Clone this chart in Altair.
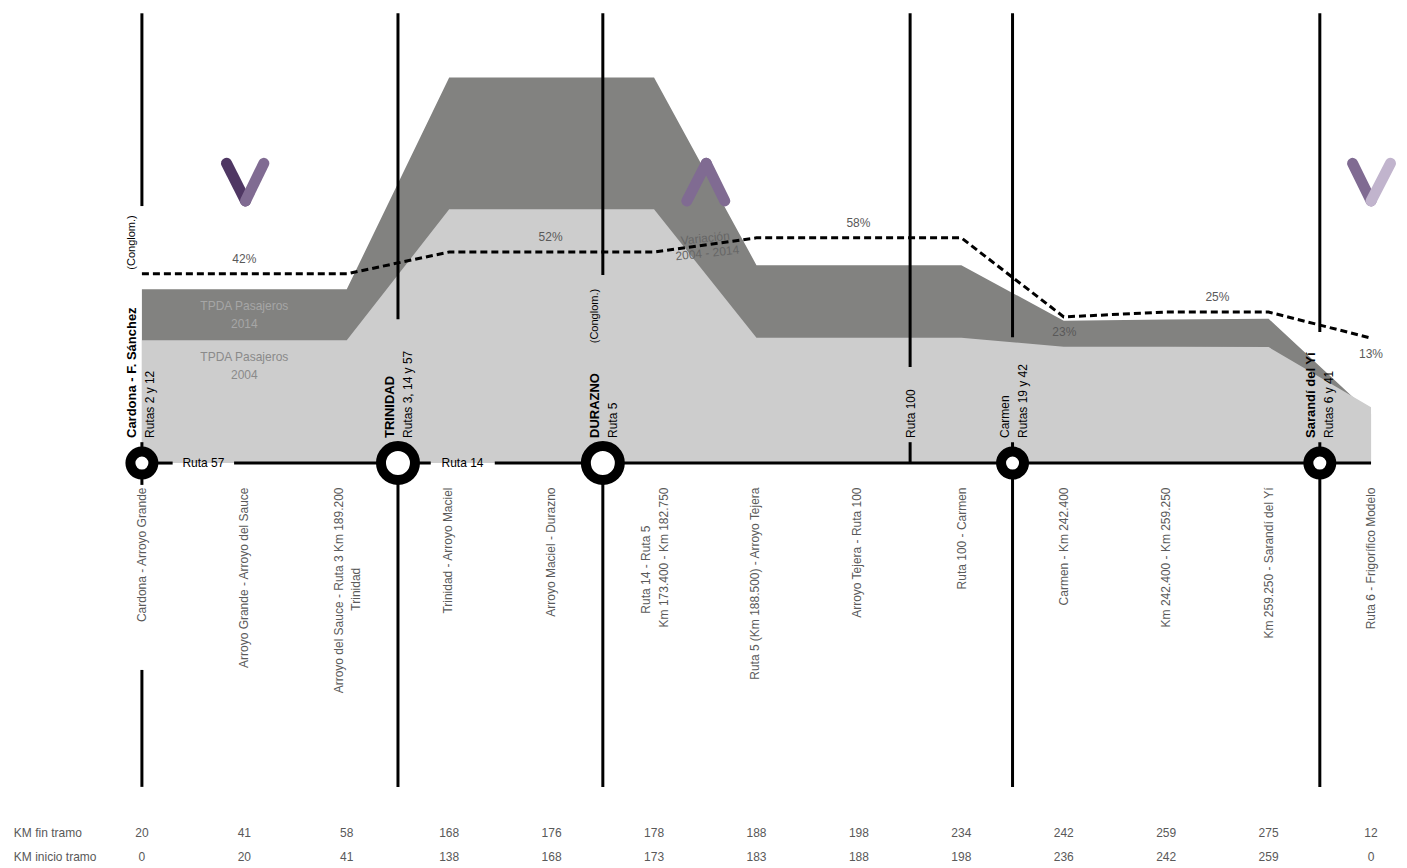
import altair as alt
import pandas as pd

FONT = "Liberation Sans"
GRAY = "#595959"

# ---- series
idx = list(range(13))
tpda_2014 = [541, 541, 541, 1200, 1200, 1200, 616, 616, 616, 443, 447, 449, 153]
tpda_2004 = [382, 382, 382, 790, 790, 790, 390, 390, 390, 362, 362, 361, 174]
variacion = [589, 589, 589, 657, 657, 657, 701, 701, 701, 455, 470, 470, 389]
y_ticks = [0, 200, 400, 600, 800, 1000, 1200, 1400]

# ---- bottom table
km_fin = [20, 41, 58, 168, 176, 178, 188, 198, 234, 242, 259, 275, 12]
km_inicio = [0, 20, 41, 138, 168, 173, 183, 188, 198, 236, 242, 259, 0]
km_row_fin = -1151
km_row_inicio = -1225
km_names = ["KM fin tramo", "KM inicio tramo"]
km_name_x = [-1.25, -1.25]
km_name_y = [km_row_fin, km_row_inicio]

# ---- segment names (rotated)
tramo_text = ["Cardona - Arroyo Grande", "Arroyo Grande - Arroyo del Sauce",
              "Arroyo del Sauce -  Ruta 3 Km 189.200", "Trinidad",
              "Trinidad - Arroyo Maciel", "Arroyo Maciel - Durazno",
              "Ruta 14  -  Ruta 5", "Km 173.400 - Km 182.750",
              "Ruta 5 (Km 188.500) - Arroyo Tejera", "Arroyo Tejera - Ruta 100",
              "Ruta 100 - Carmen", "Carmen - Km 242.400",
              "Km 242.400 - Km 259.250", "Km 259.250 - Sarandí del Yí",
              "Ruta 6 - Frigorífico Modelo"]
tramo_x = [0, 1, 1.923, 2.09, 2.985, 3.99, 4.918, 5.094, 5.99, 6.985, 8.01, 9.006, 10.0, 11.006, 12.0]
tramo_y = [-76, -76, -76, -326, -76, -76, -195, -76, -76, -76, -76, -76, -76, -76, -76]

# ---- towns (rotated)
bold_text = ["Cardona - F. Sánchez", "TRINIDAD", "DURAZNO", "Sarandí del Yí"]
bold_x = [-0.098, 2.42, 4.42, 11.41]
bold_y = [78, 78, 78, 78]
town_text = ["Rutas 2 y 12", "Rutas 3, 14 y 57", "Ruta 5", "Ruta 100", "Carmen", "Rutas 19 y 42", "Rutas 6 y 41"]
town_x = [0.078, 2.6, 4.6, 7.507, 8.427, 8.605, 11.587]
town_y = [78, 78, 78, 78, 78, 78, 78]
conglom_text = ["(Conglom.)", "(Conglom.)"]
conglom_x = [-0.098, 4.42]
conglom_y = [602, 373]

# ---- percentages and notes
pct_text = ["42%", "52%", "58%", "23%", "25%", "13%"]
pct_x = [1.0, 3.99, 6.995, 9.006, 10.5, 12.0]
pct_y = [635, 703, 747, 408, 516, 339]
tpda14_text = ["TPDA Pasajeros", "2014"]
tpda14_x = [1.0, 1.0]
tpda14_y = [489, 433]
tpda04_text = ["TPDA Pasajeros", "2004"]
tpda04_x = [1.0, 1.0]
tpda04_y = [331, 274]
var_text = ["Variación", "2004 - 2014"]
var_x = [5.5, 5.52]
var_y = [700, 654]

ruta_text = ["Ruta 57", "Ruta 14"]
ruta_x = [0.6, 3.13]
ruta_y = [0, 0]

# ---- structural lines
vline_x = [0, 0, 0, 2.5, 2.5, 4.5, 4.5, 7.5, 7.5, 8.5, 8.5, 11.5, 11.5]
vline_a = [1400, 65, -644, 1400, 65, 1400, 65, 1400, 65, 1400, 65, 1400, 65]
vline_b = [800, -68, -1008, 448, -1008, 585, -1008, 299, 0, 392, -1008, 408, -1008]
hline_a = [0, 0.9, 3.445]
hline_b = [0.3, 2.82, 12]
nodes_x = [0, 2.5, 4.5, 8.5, 11.5]
nodes_size = [529, 1156, 1156, 529, 529]

X_SCALE = alt.Scale(domain=[-0.5659, 12.273], nice=False, zero=False)
Y_SCALE = alt.Scale(domain=[-1244, 1400], nice=False, zero=False)


def X(field="x"):
    return alt.X(f"{field}:Q", scale=X_SCALE, axis=None)


def Y(field="y"):
    return alt.Y(f"{field}:Q", scale=Y_SCALE, axis=None)


def label_layer(texts, xs, ys, color=GRAY, size=12, **kw):
    df = pd.DataFrame({"x": xs, "y": ys, "t": texts})
    return alt.Chart(df).mark_text(font=FONT, fontSize=size, color=color, **kw).encode(
        x=X(), y=Y(), text="t:N")


def rotated(texts, xs, ys, color=GRAY, size=12, align="right", **kw):
    return label_layer(texts, xs, ys, color, size, angle=270, align=align, baseline="middle", **kw)


series = pd.DataFrame({"x": idx, "a": tpda_2014, "b": tpda_2004, "v": variacion, "zero": [0] * 13})

dark = alt.Chart(series).mark_area(color="#828280", opacity=1).encode(
    x=X(),
    y=alt.Y("a:Q", scale=Y_SCALE, stack=None, axis=alt.Axis(
        values=y_ticks, title=None, domain=False, ticks=False, tickSize=0, grid=True,
        gridColor="#e3e3e3", gridWidth=3, labelFont=FONT, labelFontSize=12, labelColor=GRAY,
        labelPadding=21, labelExpr="replace(format(datum.value, ','), ',', '.')")),
    y2="zero:Q")
light = alt.Chart(series).mark_area(color="#cdcdcd", opacity=1).encode(
    x=X(), y=alt.Y("b:Q", scale=Y_SCALE, stack=None, axis=None), y2="zero:Q")
dashed = alt.Chart(series).mark_line(color="black", strokeWidth=3, strokeDash=[7, 4]).encode(
    x=X(), y=Y("v"))

vlines = alt.Chart(pd.DataFrame({"x": vline_x, "a": vline_a, "b": vline_b})).mark_rule(
    color="black", strokeWidth=3).encode(x=X(), y=Y("a"), y2="b:Q")
hlines = alt.Chart(pd.DataFrame({"a": hline_a, "b": hline_b, "y": [0] * len(hline_a)})).mark_rule(
    color="black", strokeWidth=3).encode(x=X("a"), x2="b:Q", y=Y())
nodes = alt.Chart(pd.DataFrame({"x": nodes_x, "y": [0] * 5, "s": nodes_size})).mark_circle(
    fill="white", stroke="black", strokeWidth=10, opacity=1).encode(
    x=X(), y=Y(), size=alt.Size("s:Q", scale=None, legend=None))


def stroke(xs, ys, color):
    df = pd.DataFrame({"x": xs, "y": ys})
    return alt.Chart(df).mark_line(color=color, strokeWidth=11, strokeCap="round").encode(x=X(), y=Y())


chevrons = [
    stroke([0.826, 1.012], [933, 816], "#4f3763"),
    stroke([1.012, 1.19], [816, 933], "#806b92"),
    stroke([5.32, 5.51], [816, 933], "#806b92"),
    stroke([5.51, 5.69], [933, 816], "#806b92"),
    stroke([11.82, 12.0], [933, 816], "#806b92"),
    stroke([12.0, 12.19], [816, 933], "#c1b4cd"),
]

km_df_fin = label_layer([str(v) for v in km_fin], idx, [km_row_fin] * 13, baseline="middle")
km_df_ini = label_layer([str(v) for v in km_inicio], idx, [km_row_inicio] * 13, baseline="middle")

chart = alt.layer(
    dark, light, vlines, hlines, nodes, dashed, *chevrons,
    rotated(tramo_text, tramo_x, tramo_y),
    rotated(bold_text, bold_x, bold_y, color="black", size=13, align="left", fontWeight="bold"),
    rotated(town_text, town_x, town_y, color="black", size=12, align="left"),
    rotated(conglom_text, conglom_x, conglom_y, color="black", size=11, align="left"),
    label_layer(pct_text, pct_x, pct_y, baseline="middle"),
    label_layer(tpda14_text, tpda14_x, tpda14_y, color="#a6a6a6", baseline="middle"),
    label_layer(tpda04_text, tpda04_x, tpda04_y, color="#8a8a8a", baseline="middle"),
    label_layer(var_text, var_x, var_y, color="#666666", angle=354, baseline="middle"),
    label_layer(ruta_text, ruta_x, ruta_y, color="black", baseline="middle"),
    km_df_fin, km_df_ini,
    label_layer(km_names, km_name_x, km_name_y, align="left", baseline="middle"),
).properties(
    width=1316, height=850,
    autosize=alt.AutoSizeParams(type="none"),
    padding={"left": 76, "top": 5, "right": 0, "bottom": 0},
).configure_view(stroke=None).configure(background="white") if False else alt.layer(
    dark, light, vlines, hlines, nodes, dashed, *chevrons,
    rotated(tramo_text, tramo_x, tramo_y),
    rotated(bold_text, bold_x, bold_y, color="black", size=13, align="left", fontWeight="bold"),
    rotated(town_text, town_x, town_y, color="black", size=12, align="left"),
    rotated(conglom_text, conglom_x, conglom_y, color="black", size=11, align="left"),
    label_layer(pct_text, pct_x, pct_y, baseline="middle"),
    label_layer(tpda14_text, tpda14_x, tpda14_y, color="#a6a6a6", baseline="middle"),
    label_layer(tpda04_text, tpda04_x, tpda04_y, color="#8a8a8a", baseline="middle"),
    label_layer(var_text, var_x, var_y, color="#666666", angle=354, baseline="middle"),
    label_layer(ruta_text, ruta_x, ruta_y, color="black", baseline="middle"),
    km_df_fin, km_df_ini,
    label_layer(km_names, km_name_x, km_name_y, align="left", baseline="middle"),
).properties(
    width=1316, height=850,
    autosize=alt.AutoSizeParams(type="none"),
    padding={"left": 76, "top": 5, "right": 0, "bottom": 0},
).configure_view(stroke=None)

chart.save("out.html", embed_options={"renderer": "svg", "actions": False})
